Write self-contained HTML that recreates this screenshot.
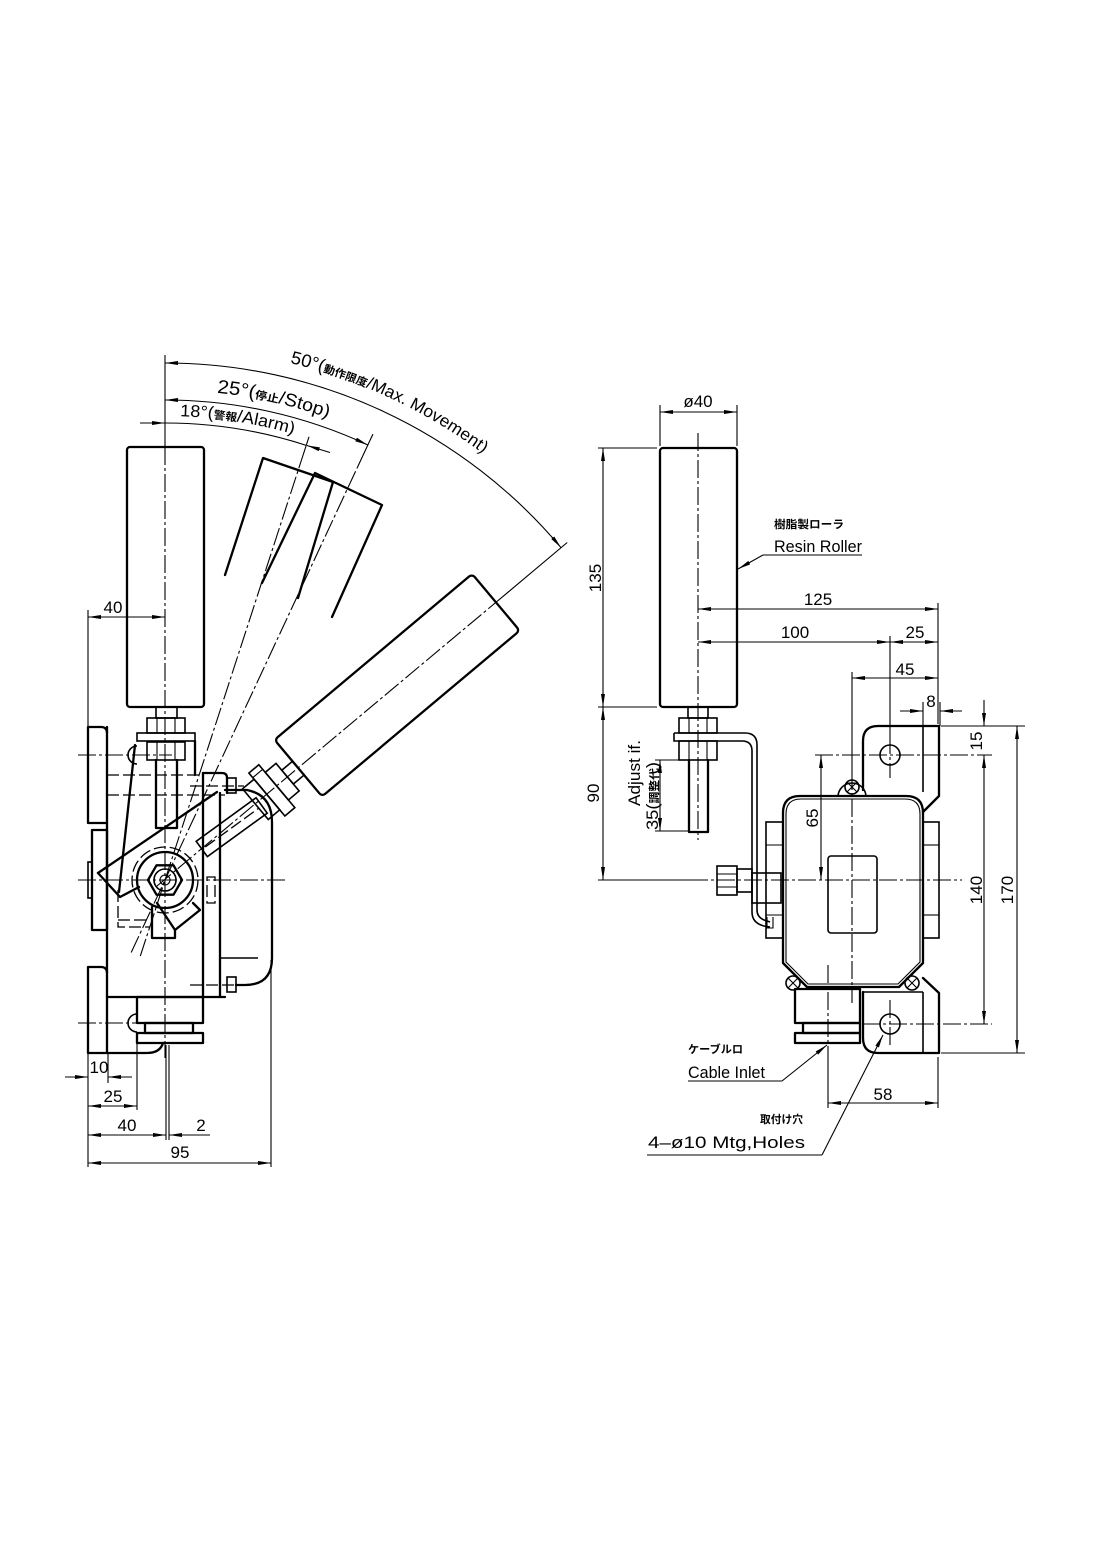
<!DOCTYPE html>
<html><head><meta charset="utf-8">
<style>
html,body{margin:0;padding:0;background:#fff;}
svg{display:block}
.k{stroke:#000;stroke-width:2.3;fill:none;stroke-linejoin:round;stroke-linecap:round}
.m{stroke:#000;stroke-width:1.6;fill:none}
.n{stroke:#000;stroke-width:1.1;fill:none}
.c{stroke:#000;stroke-width:1.1;fill:none;stroke-dasharray:18 3 3 3}
.d{stroke:#000;stroke-width:1.3;fill:none;stroke-dasharray:12 4}
text{font-family:"Liberation Sans","Noto Sans CJK JP",sans-serif;fill:#000;font-size:17px}
.j{font-size:11px;font-weight:bold;font-family:"Noto Sans CJK JP","Liberation Sans",sans-serif}
</style></head><body>
<svg width="1097" height="1551" viewBox="0 0 1097 1551" xmlns="http://www.w3.org/2000/svg">
<defs>
<marker id="a" viewBox="0 0 13 4" refX="13" refY="2" markerWidth="13" markerHeight="4" markerUnits="userSpaceOnUse" orient="auto-start-reverse"><path d="M0,0L13,2L0,4z" fill="#000"/></marker>
<path id="p50" d="M165,348 A532,532 0 0 1 625.7,614"/>
<path id="p25" d="M165,390 A490,490 0 0 1 589.4,635"/>
<path id="p18" d="M165,416 A464,464 0 0 1 566.8,648"/>
</defs>
<rect width="1097" height="1551" fill="#fff"/>

<!-- ================= LEFT VIEW ================= -->
<line class="n" x1="165" y1="355" x2="165" y2="447"/>
<line class="c" x1="165" y1="447" x2="165" y2="1058"/>
<line class="n" x1="166" y1="1045" x2="166" y2="1140"/>
<line class="n" x1="169" y1="1045" x2="169" y2="1140"/>
<line class="c" x1="78" y1="880" x2="285" y2="880"/>

<path class="n" d="M165,363 A517,517 0 0 1 561.04,547.68" marker-start="url(#a)" marker-end="url(#a)"/>
<path class="n" d="M165,400 A480,480 0 0 1 367.86,444.97" marker-start="url(#a)" marker-end="url(#a)"/>
<path class="n" d="M165,423 A457,457 0 0 1 306.22,445.37"/>
<line class="n" x1="140" y1="423" x2="165" y2="423" marker-end="url(#a)"/>
<line class="n" x1="330" y1="452.5" x2="307" y2="445.5" marker-end="url(#a)"/>

<line class="c" x1="157" y1="886" x2="502.1" y2="597.2"/>
<line class="n" x1="502.1" y1="597.2" x2="567.2" y2="542.5"/>
<line class="c" x1="131.2" y1="952.5" x2="357.3" y2="467.6"/>
<line class="n" x1="357.3" y1="467.6" x2="372.9" y2="434.1"/>
<line class="c" x1="140.3" y1="956.1" x2="301" y2="461.5"/>
<line class="n" x1="301" y1="461.5" x2="309" y2="436.8"/>

<text><textPath href="#p50" startOffset="126" textLength="215" lengthAdjust="spacingAndGlyphs"><tspan font-size="18">50°(</tspan><tspan font-size="11" font-weight="bold">動作限度</tspan><tspan font-size="17">/Max. Movement)</tspan></textPath></text>
<text><textPath href="#p25" startOffset="52" textLength="114" lengthAdjust="spacingAndGlyphs"><tspan font-size="19">25°(</tspan><tspan font-size="11" font-weight="bold">停止</tspan><tspan font-size="18">/Stop)</tspan></textPath></text>
<text><textPath href="#p18" startOffset="15" textLength="115" lengthAdjust="spacingAndGlyphs"><tspan font-size="17">18°(</tspan><tspan font-size="11" font-weight="bold">警報</tspan><tspan font-size="17">/Alarm)</tspan></textPath></text>

<rect class="k" x="127" y="447" width="77" height="260" rx="3"/>
<polyline class="k" points="225,575 263,458 333,482 298,598"/>
<polyline class="k" points="262,583 315,473 382,505 332,617"/>

<g transform="translate(165,880) rotate(-40)">
<rect class="k" x="174" y="-37" width="258" height="74" rx="4"/>
<rect class="m" x="160" y="-9" width="14" height="18"/>
<rect class="m" x="146" y="-18" width="14" height="36"/>
<rect class="m" x="133" y="-28" width="13" height="56"/>
<rect class="m" x="118" y="-20" width="15" height="40"/>
<line class="n" x1="133" y1="-22" x2="146" y2="-22"/>
</g>
<g transform="translate(165,880) rotate(-36)">
<rect class="m" x="48" y="-13" width="74" height="19"/>
<line class="d" x1="52" y1="-3" x2="118" y2="-3"/>
</g>

<rect class="m" x="156" y="707" width="21" height="11"/>
<rect class="m" x="147" y="718" width="38" height="15"/>
<rect class="m" x="137" y="733" width="58" height="8"/>
<rect class="m" x="147" y="742" width="38" height="18"/>
<line class="n" x1="157" y1="742" x2="157" y2="760"/>
<line class="n" x1="175" y1="742" x2="175" y2="760"/>
<line class="n" x1="157" y1="718" x2="157" y2="733"/>
<line class="n" x1="175" y1="718" x2="175" y2="733"/>
<path class="k" d="M156,760 V828 H177 V760"/>

<path class="k" d="M107,823 H88 V727 H101 Q107,727 107,733"/>
<rect class="k" x="92" y="830" width="15" height="100"/>
<rect class="m" x="88" y="862" width="4" height="36"/>
<path class="k" d="M107,973 Q107,967 101,967 H88 V1053 H147 Q160,1053 163,1043"/>
<line class="k" x1="107" y1="727" x2="107" y2="1053"/>
<path class="m" d="M137,746 A9,9 0 0 0 137,764"/>
<path class="m" d="M137,1014 A9,9 0 0 0 137,1032"/>
<line class="c" x1="78" y1="755" x2="172" y2="755"/>
<line class="c" x1="78" y1="1023" x2="150" y2="1023"/>

<line class="d" x1="107" y1="775" x2="203" y2="775"/>
<line class="d" x1="107" y1="795" x2="225" y2="795"/>
<line class="k" x1="195" y1="741" x2="195" y2="775"/>
<line class="k" x1="135" y1="745" x2="119" y2="892"/>
<path class="k" d="M203,773 H222 Q227,773 227,778 V793"/>
<line class="k" x1="203" y1="773" x2="203" y2="997"/>
<line class="k" x1="220" y1="793" x2="220" y2="997"/>
<line class="k" x1="107" y1="997" x2="225" y2="997"/>
<rect class="m" x="227" y="778" width="9" height="15"/>
<rect class="m" x="227" y="977" width="9" height="15"/>
<line class="d" x1="190" y1="786" x2="244" y2="786"/>
<line class="d" x1="190" y1="985" x2="242" y2="985"/>
<path class="k" d="M225,790 H247 Q272,795 272,822 V958 Q272,985 245,985 H236"/>
<line class="m" x1="220" y1="958" x2="258" y2="958"/>
<line class="n" x1="271" y1="960" x2="271" y2="1167"/>

<rect class="k" x="137" y="997" width="66" height="26"/>
<rect class="k" x="145" y="1023" width="48" height="10"/>
<rect class="k" x="137" y="1033" width="66" height="10"/>

<line class="k" x1="98" y1="873" x2="217" y2="792"/>
<polyline class="k" points="98,873 120,897 139,887"/>
<path class="k" d="M152,907 V938 H175 V930 L200,910 L193,903"/>
<line class="k" x1="157" y1="903" x2="175" y2="930"/>
<path class="d" d="M118,890 V927 H150"/>
<line class="d" x1="118" y1="920" x2="150" y2="920"/>
<circle class="k" cx="165" cy="880" r="28"/>
<circle class="d" cx="165" cy="880" r="33"/>
<polygon class="k" points="182,880 173.5,894.7 156.5,894.7 148,880 156.5,865.3 173.5,865.3"/>
<circle class="m" cx="165" cy="880" r="11"/>
<circle class="n" cx="165" cy="880" r="5"/>
<rect class="d" x="207" y="877" width="8" height="26"/>

<line class="n" x1="88" y1="610" x2="88" y2="727"/>
<line class="n" x1="88" y1="617" x2="165" y2="617" marker-start="url(#a)" marker-end="url(#a)"/>
<text x="113" y="613" text-anchor="middle">40</text>

<line class="n" x1="88" y1="1053" x2="88" y2="1167"/>
<line class="n" x1="108" y1="1053" x2="108" y2="1083"/>
<line class="n" x1="137" y1="1043" x2="137" y2="1110"/>
<line class="n" x1="65" y1="1077" x2="88" y2="1077" marker-end="url(#a)"/>
<line class="n" x1="132" y1="1077" x2="108" y2="1077" marker-end="url(#a)"/>
<text x="99" y="1073" text-anchor="middle" font-size="15">10</text>
<line class="n" x1="88" y1="1106" x2="137" y2="1106" marker-start="url(#a)" marker-end="url(#a)"/>
<text x="113" y="1102" text-anchor="middle">25</text>
<line class="n" x1="88" y1="1135" x2="166" y2="1135" marker-start="url(#a)" marker-end="url(#a)"/>
<line class="n" x1="210" y1="1135" x2="169" y2="1135" marker-end="url(#a)"/>
<text x="127" y="1131" text-anchor="middle">40</text>
<text x="201" y="1131" text-anchor="middle">2</text>
<line class="n" x1="88" y1="1163" x2="271" y2="1163" marker-start="url(#a)" marker-end="url(#a)"/>
<text x="180" y="1158" text-anchor="middle">95</text>

<!-- ================= RIGHT VIEW ================= -->
<rect class="k" x="660" y="448" width="77" height="259" rx="3"/>
<line class="c" x1="698" y1="433" x2="698" y2="840"/>

<rect class="m" x="688" y="707" width="20" height="11"/>
<rect class="m" x="679" y="718" width="38" height="15"/>
<rect class="m" x="679" y="741" width="38" height="19"/>
<line class="n" x1="689" y1="718" x2="689" y2="733"/>
<line class="n" x1="707" y1="718" x2="707" y2="733"/>
<line class="n" x1="689" y1="741" x2="689" y2="760"/>
<line class="n" x1="707" y1="741" x2="707" y2="760"/>
<path class="k" d="M689,760 V832 H708 V760"/>
<path class="m" d="M674,733 H745 Q757,733 757,745 V910 Q757,917 764,920 L770,922"/>
<path class="m" d="M674,733 V741 H742 Q752,741 752,751 V912 Q752,923 764,926 L770,927"/>

<rect class="m" x="717" y="866" width="20" height="29"/>
<line class="n" x1="717" y1="874" x2="737" y2="874"/>
<line class="n" x1="717" y1="887" x2="737" y2="887"/>
<rect class="m" x="737" y="869" width="15" height="23"/>
<rect class="m" x="752" y="873" width="29" height="30"/>
<rect class="m" x="766" y="822" width="17" height="116"/>
<line class="n" x1="766" y1="845" x2="783" y2="845"/>
<line class="n" x1="766" y1="915" x2="783" y2="915"/>
<path class="n" d="M767,917 V928 H773 V917"/>

<path class="k" d="M800,796 H906 Q923,796 923,813 V963 L899,987 H807 L783,963 V813 Q783,796 800,796 Z"/>
<path class="n" d="M801,799 H905 Q920,799 920,814 V962 L898,984 H808 L786,962 V814 Q786,799 801,799 Z"/>
<rect class="m" x="828" y="856" width="49" height="77" rx="3"/>
<rect class="m" x="923" y="822" width="16" height="116"/>
<line class="n" x1="923" y1="845" x2="939" y2="845"/>
<line class="n" x1="923" y1="915" x2="939" y2="915"/>
<path class="m" d="M838,797 A14,14 0 0 1 866,797"/>
<circle class="m" cx="852" cy="787" r="7"/>
<path class="n" d="M847,782 L857,792 M857,782 L847,792"/>
<circle class="m" cx="793" cy="983" r="7"/>
<path class="n" d="M788,978 L798,988 M798,978 L788,988"/>
<circle class="m" cx="912" cy="983" r="7"/>
<path class="n" d="M907,978 L917,988 M917,978 L907,988"/>
<path class="k" d="M863,790 V741 Q863,726 878,726 H939 V796 L923,812"/>
<line class="m" x1="923" y1="726" x2="923" y2="792"/>
<path class="k" d="M863,992 V1038 Q863,1053 878,1053 H939 V993 L923,978"/>
<line class="m" x1="923" y1="992" x2="923" y2="1053"/>
<line class="m" x1="863" y1="992" x2="923" y2="992"/>
<circle class="m" cx="890" cy="755" r="10"/>
<circle class="m" cx="890" cy="1024" r="10"/>
<rect class="k" x="795" y="989" width="65" height="34"/>
<rect class="k" x="803" y="1023" width="57" height="10"/>
<rect class="k" x="795" y="1033" width="65" height="10"/>

<line class="n" x1="598" y1="880" x2="690" y2="880"/>
<line class="c" x1="690" y1="880" x2="962" y2="880"/>
<line class="n" x1="852" y1="672" x2="852" y2="772"/>
<line class="c" x1="852" y1="772" x2="852" y2="1003"/>
<line class="c" x1="828" y1="965" x2="828" y2="1050"/>
<line class="n" x1="828" y1="1050" x2="828" y2="1108"/>
<line class="n" x1="890" y1="636" x2="890" y2="736"/>
<line class="c" x1="890" y1="736" x2="890" y2="778"/>
<line class="c" x1="890" y1="1000" x2="890" y2="1046"/>
<line class="c" x1="815" y1="755" x2="992" y2="755"/>
<line class="c" x1="862" y1="1024" x2="992" y2="1024"/>
<line class="n" x1="941" y1="726" x2="1025" y2="726"/>
<line class="n" x1="941" y1="1053" x2="1025" y2="1053"/>
<line class="n" x1="938" y1="603" x2="938" y2="724"/>
<line class="n" x1="923" y1="702" x2="923" y2="726"/>
<line class="n" x1="938" y1="1057" x2="938" y2="1108"/>

<line class="n" x1="660" y1="405" x2="660" y2="446"/>
<line class="n" x1="737" y1="405" x2="737" y2="446"/>
<line class="n" x1="660" y1="412" x2="737" y2="412" marker-start="url(#a)" marker-end="url(#a)"/>
<text x="698" y="407" text-anchor="middle">ø40</text>

<line class="n" x1="598" y1="448" x2="657" y2="448"/>
<line class="n" x1="598" y1="707" x2="657" y2="707"/>
<line class="n" x1="603" y1="448" x2="603" y2="707" marker-start="url(#a)" marker-end="url(#a)"/>
<line class="n" x1="603" y1="707" x2="603" y2="880" marker-start="url(#a)" marker-end="url(#a)"/>
<text transform="translate(601,578) rotate(-90)" text-anchor="middle">135</text>
<text transform="translate(599,793) rotate(-90)" text-anchor="middle">90</text>

<line class="n" x1="655" y1="760" x2="688" y2="760"/>
<line class="n" x1="655" y1="831" x2="688" y2="831"/>
<line class="n" x1="660" y1="760" x2="660" y2="831" marker-start="url(#a)" marker-end="url(#a)"/>
<text transform="translate(640,773) rotate(-90)" text-anchor="middle" font-size="16" textLength="66" lengthAdjust="spacingAndGlyphs">Adjust if.</text>
<text transform="translate(658,796) rotate(-90)" text-anchor="middle" textLength="68" lengthAdjust="spacingAndGlyphs">35(<tspan class="j">調整代</tspan>)</text>

<line class="n" x1="763" y1="555" x2="738" y2="569" marker-end="url(#a)"/>
<line class="n" x1="763" y1="555" x2="862" y2="555"/>
<text class="j" x="774" y="528" font-size="11" textLength="70" lengthAdjust="spacingAndGlyphs">樹脂製ローラ</text>
<text x="774" y="552" font-size="16" textLength="88" lengthAdjust="spacingAndGlyphs">Resin Roller</text>

<line class="n" x1="698" y1="609" x2="938" y2="609" marker-start="url(#a)" marker-end="url(#a)"/>
<text x="818" y="605" text-anchor="middle">125</text>
<line class="n" x1="698" y1="642" x2="890" y2="642" marker-start="url(#a)" marker-end="url(#a)"/>
<line class="n" x1="890" y1="642" x2="938" y2="642" marker-start="url(#a)" marker-end="url(#a)"/>
<text x="795" y="638" text-anchor="middle">100</text>
<text x="915" y="638" text-anchor="middle">25</text>
<line class="n" x1="852" y1="678" x2="938" y2="678" marker-start="url(#a)" marker-end="url(#a)"/>
<text x="905" y="675" text-anchor="middle">45</text>
<line class="n" x1="900" y1="711" x2="923" y2="711" marker-end="url(#a)"/>
<line class="n" x1="962" y1="711" x2="940" y2="711" marker-end="url(#a)"/>
<line class="n" x1="940" y1="702" x2="940" y2="726"/>
<text x="931" y="707" text-anchor="middle">8</text>

<line class="n" x1="984" y1="700" x2="984" y2="726" marker-end="url(#a)"/>
<line class="n" x1="984" y1="755" x2="984" y2="1024" marker-start="url(#a)" marker-end="url(#a)"/>
<line class="n" x1="1017" y1="726" x2="1017" y2="1053" marker-start="url(#a)" marker-end="url(#a)"/>
<text transform="translate(982,741) rotate(-90)" text-anchor="middle">15</text>
<text transform="translate(982,890) rotate(-90)" text-anchor="middle">140</text>
<text transform="translate(1013,890) rotate(-90)" text-anchor="middle">170</text>

<line class="n" x1="821" y1="755" x2="821" y2="880" marker-start="url(#a)" marker-end="url(#a)"/>
<text transform="translate(818,818) rotate(-90)" text-anchor="middle">65</text>

<line class="n" x1="828" y1="1103" x2="938" y2="1103" marker-start="url(#a)" marker-end="url(#a)"/>
<text x="883" y="1100" text-anchor="middle">58</text>

<line class="n" x1="782" y1="1081" x2="827" y2="1045" marker-end="url(#a)"/>
<line class="n" x1="688" y1="1081" x2="782" y2="1081"/>
<text class="j" x="688" y="1053" textLength="55" lengthAdjust="spacingAndGlyphs">ケーブルロ</text>
<text x="688" y="1078" font-size="17.5" textLength="77" lengthAdjust="spacingAndGlyphs">Cable Inlet</text>

<line class="n" x1="822" y1="1155" x2="883" y2="1035" marker-end="url(#a)"/>
<line class="n" x1="647" y1="1155" x2="822" y2="1155"/>
<text class="j" x="760" y="1123" textLength="43" lengthAdjust="spacingAndGlyphs">取付け穴</text>
<text x="648" y="1148" font-size="19" textLength="157" lengthAdjust="spacingAndGlyphs">4–ø10  Mtg,Holes</text>
</svg>
</body></html>
